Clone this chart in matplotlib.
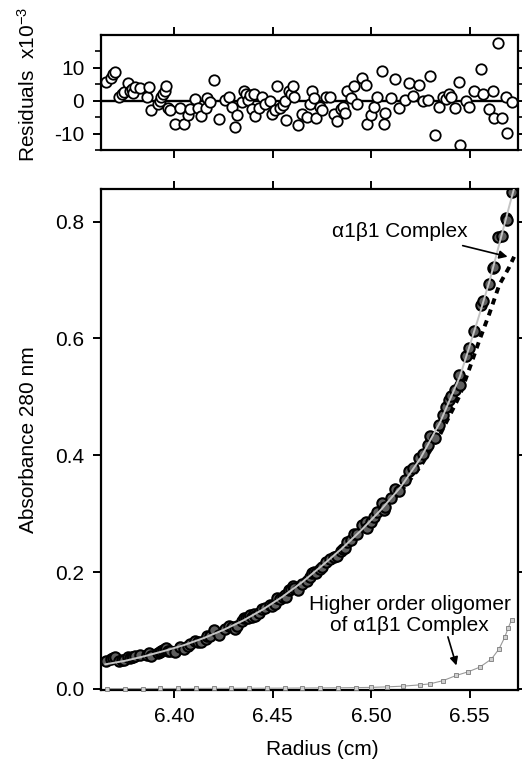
import matplotlib
matplotlib.use("Agg")
from matplotlib import pyplot as plt
from matplotlib.ticker import FormatStrFormatter

plt.rcParams['font.family'] = ['Liberation Sans', 'DejaVu Sans']
plt.rcParams['mathtext.fontset'] = 'custom'
plt.rcParams['mathtext.rm'] = 'Liberation Sans'
plt.rcParams['mathtext.it'] = 'Liberation Sans:italic'
plt.rcParams['axes.unicode_minus'] = False
plt.rcParams['font.size'] = 15

# measured points (radius in cm), residuals in units of 1e-3
radius = [6.3655, 6.3680, 6.3689, 6.3700, 6.3718, 6.3735, 6.3745, 6.3765, 6.3774, 6.3787,
          6.3791, 6.3800, 6.3825, 6.3859, 6.3871, 6.3884, 6.3915, 6.3927, 6.3935, 6.3944,
          6.3952, 6.3959, 6.3969, 6.3978, 6.4003, 6.4029, 6.4050, 6.4068, 6.4080, 6.4105,
          6.4119, 6.4136, 6.4160, 6.4168, 6.4182, 6.4201, 6.4228, 6.4259, 6.4279, 6.4293,
          6.4306, 6.4318, 6.4344, 6.4352, 6.4364, 6.4374, 6.4386, 6.4395, 6.4403, 6.4412,
          6.4429, 6.4446, 6.4463, 6.4488, 6.4497, 6.4510, 6.4522, 6.4539, 6.4551, 6.4561,
          6.4568, 6.4582, 6.4595, 6.4602, 6.4607, 6.4629, 6.4650, 6.4675, 6.4687, 6.4697,
          6.4709, 6.4721, 6.4738, 6.4748, 6.4769, 6.4789, 6.4811, 6.4828, 6.4845, 6.4857,
          6.4867, 6.4879, 6.4896, 6.4913, 6.4930, 6.4952, 6.4973, 6.4978, 6.4998, 6.5015,
          6.5029, 6.5054, 6.5066, 6.5071, 6.5100, 6.5122, 6.5139, 6.5173, 6.5194, 6.5214,
          6.5241, 6.5262, 6.5287, 6.5299, 6.5321, 6.5344, 6.5364, 6.5381, 6.5395, 6.5406,
          6.5423, 6.5446, 6.5449, 6.5483, 6.5497, 6.5520, 6.5556, 6.5568, 6.5599, 6.5616,
          6.5624, 6.5645, 6.5665, 6.5684, 6.5690, 6.5713]
residuals = [5.7, 7.0, 8.0, 8.8, 1.0, 2.1, 2.6, 5.4, 3.1, 3.6,
             2.4, 4.3, 3.9, 1.2, 4.3, -2.9, -1.0, -0.2, 1.0, 2.1,
             3.1, 4.5, -2.3, -2.9, -7.2, -2.3, -7.0, -4.3, -2.6, 0.5,
             -2.1, -4.6, -2.3, 0.8, -0.5, 6.4, -5.7, 0.2, 1.0, -1.9,
             -8.0, -4.3, -0.3, 3.1, 2.1, 0.2, 1.8, -2.6, 2.1, -4.6,
             -2.1, 1.0, -1.0, 0.0, -4.1, -2.9, 4.6, -2.3, -1.2, 0.0,
             -6.0, 2.9, 1.9, 4.6, 1.0, -7.4, -4.1, -4.9, -1.0, 3.1,
             0.7, -5.4, -1.9, -2.9, 1.2, 1.0, -3.9, -6.2, -2.6, -1.9,
             -3.6, 3.1, 0.7, 4.6, -1.0, 6.9, 4.8, -7.0, -4.3, -1.9,
             1.0, 9.1, -7.2, -3.6, 0.8, 6.5, -2.3, 0.2, 5.4, 1.5,
             4.8, -0.2, 0.2, 7.4, -10.3, -1.9, 1.0, 0.5, 2.1, 1.2,
             -2.3, 5.7, -13.4, -0.2, -1.9, 2.9, 9.5, 1.9, -2.6, 2.9,
             -5.4, 17.7, -5.2, 1.2, -9.8, -0.5]
absorbance = [0.048, 0.051, 0.052, 0.054, 0.047, 0.049, 0.050, 0.055, 0.053, 0.055,
              0.054, 0.056, 0.058, 0.058, 0.062, 0.056, 0.061, 0.063, 0.065, 0.067,
              0.068, 0.070, 0.065, 0.065, 0.063, 0.071, 0.068, 0.073, 0.076, 0.082,
              0.081, 0.081, 0.086, 0.090, 0.091, 0.101, 0.092, 0.103, 0.107, 0.106,
              0.102, 0.108, 0.116, 0.121, 0.122, 0.122, 0.126, 0.123, 0.129, 0.124,
              0.130, 0.136, 0.138, 0.144, 0.142, 0.146, 0.156, 0.153, 0.157, 0.161,
              0.157, 0.169, 0.171, 0.176, 0.173, 0.170, 0.179, 0.185, 0.192, 0.199,
              0.200, 0.198, 0.206, 0.208, 0.218, 0.223, 0.225, 0.228, 0.236, 0.240,
              0.242, 0.252, 0.255, 0.265, 0.265, 0.281, 0.286, 0.276, 0.286, 0.294,
              0.302, 0.318, 0.307, 0.312, 0.327, 0.342, 0.339, 0.358, 0.373, 0.379,
              0.395, 0.402, 0.418, 0.433, 0.429, 0.451, 0.469, 0.482, 0.494, 0.502,
              0.512, 0.538, 0.521, 0.570, 0.583, 0.613, 0.658, 0.664, 0.694, 0.721,
              0.723, 0.773, 0.776, 0.807, 0.803, 0.850]

# fitted curves
fit_radius = [6.365, 6.375, 6.385, 6.395, 6.405, 6.415, 6.425, 6.435, 6.445, 6.455,
              6.465, 6.475, 6.485, 6.495, 6.505, 6.515, 6.525, 6.535, 6.545, 6.550,
              6.555, 6.560, 6.565, 6.570, 6.5725]
fit_total = [0.042, 0.048, 0.056, 0.065, 0.075, 0.087, 0.101, 0.117, 0.136, 0.158,
             0.183, 0.211, 0.240, 0.272, 0.307, 0.346, 0.395, 0.457, 0.535, 0.588,
             0.642, 0.698, 0.762, 0.826, 0.857]
fit_complex = [0.0415, 0.0475, 0.0554, 0.0643, 0.0742, 0.0861, 0.100, 0.1159, 0.1347, 0.1565,
               0.1813, 0.2091, 0.2378, 0.2694, 0.3020, 0.338, 0.381, 0.436, 0.503, 0.550,
               0.598, 0.643, 0.692, 0.722, 0.740]

# higher order oligomer component
olig_radius = [6.366, 6.375, 6.384, 6.393, 6.402, 6.411, 6.420, 6.429, 6.438, 6.447,
               6.456, 6.465, 6.474, 6.483, 6.492, 6.500, 6.508, 6.516, 6.5246, 6.5297,
               6.5364, 6.5432, 6.549, 6.555, 6.561, 6.5648, 6.5677, 6.5696, 6.5712]
olig_abs = [0.0005, 0.0005, 0.0005, 0.0006, 0.0006, 0.0007, 0.0008, 0.0009, 0.0010, 0.0011,
            0.0012, 0.0014, 0.0016, 0.0018, 0.0021, 0.0025, 0.0034, 0.0046, 0.0068, 0.0085,
            0.014, 0.023, 0.029, 0.037, 0.051, 0.068, 0.088, 0.105, 0.118]

fig = plt.figure(figsize=(5.22, 7.66), dpi=100)
ax_res = fig.add_axes([0.1935, 0.8042, 0.7989, 0.1501])
ax = fig.add_axes([0.1935, 0.0992, 0.7989, 0.6541])

for a in (ax_res, ax):
    a.set_xlim(6.3628, 6.5745)
    a.set_xticks([6.40, 6.45, 6.50, 6.55])
    a.xaxis.set_major_formatter(FormatStrFormatter('%.2f'))
    a.tick_params(direction='out', length=6, width=1.4, top=True, right=True,
                  labelsize=15, pad=6)
    for s in a.spines.values():
        s.set_linewidth(1.6)

# residuals panel
ax_res.axhline(0, color='black', lw=1.7, zorder=1)
ax_res.plot(radius, residuals, 'o', ms=7.5, mfc='white', mec='black', mew=1.3, zorder=2)
ax_res.set_ylim(-15, 20)
ax_res.set_yticks([-10, 0, 10])
ax_res.set_yticks([-15, -5, 5, 15], minor=True)
ax_res.tick_params(which='minor', direction='out', length=4, width=1.2, right=True)
ax_res.tick_params(labelbottom=False)
ax_res.set_ylabel('Residuals  x10$^{-3}$', fontsize=15)
ax_res.yaxis.set_label_coords(-0.15, 0.57)

# absorbance panel
ax.plot(radius, absorbance, 'o', ms=7.5, mfc='#5e5e5e', mec='black', mew=1.5, zorder=2)
ax.plot(fit_radius, fit_total, '-', color='#c4c4c4', lw=1.4, zorder=3)
ax.plot(fit_radius, fit_complex, color='black', lw=2.8, dashes=(1.6, 1.4), zorder=1)
ax.plot(olig_radius, olig_abs, '-', color='#999999', lw=0.8, marker='s', ms=3.5,
        mfc='#d0d0d0', mec='#7a7a7a', mew=0.6, zorder=4, clip_on=False)
ax.set_ylim(-0.002, 0.856)
ax.set_yticks([0.0, 0.2, 0.4, 0.6, 0.8])
ax.yaxis.set_major_formatter(FormatStrFormatter('%.1f'))
ax.set_ylabel('Absorbance 280 nm', fontsize=15)
ax.yaxis.set_label_coords(-0.15, 0.5)
ax.set_xlabel('Radius (cm)', fontsize=15)
ax.xaxis.set_label_coords(0.53, -0.1)

ax.text(6.5145, 0.783, 'α1β1 Complex', ha='center', va='center', fontsize=15)
ax.annotate('', xy=(6.5692, 0.740), xytext=(6.5464, 0.759),
            arrowprops=dict(arrowstyle='-|>', color='black', lw=1.2,
                            shrinkA=0, shrinkB=0, mutation_scale=12))
ax.text(6.5195, 0.127, 'Higher order oligomer\nof α1β1 Complex', ha='center',
        va='center', fontsize=15, linespacing=1.15)
ax.annotate('', xy=(6.5432, 0.040), xytext=(6.5389, 0.089),
            arrowprops=dict(arrowstyle='-|>', color='black', lw=1.2,
                            shrinkA=0, shrinkB=0, mutation_scale=12))

plt.savefig('out.png', dpi=100)
